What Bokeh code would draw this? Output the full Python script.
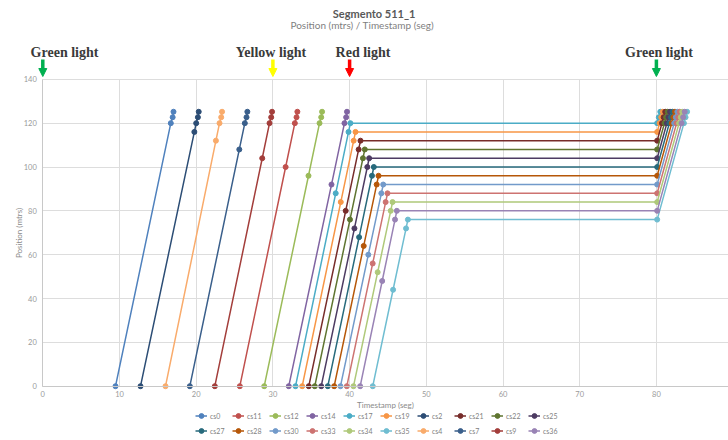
from bokeh.plotting import figure
from bokeh.models import Range1d, Label, Arrow, NormalHead, Legend, LegendItem, FixedTicker
from bokeh.embed import file_html
from bokeh.resources import INLINE

# ---------------- data ----------------
x_ticks = [0, 10, 20, 30, 40, 50, 60, 70, 80]
y_ticks = [0, 20, 40, 60, 80, 100, 120, 140]

light_names = ["Green light", "Yellow light", "Red light", "Green light"]
light_times = [0, 30, 40, 80]
light_label_x = [2.83, 29.75, 41.75, 80.34]
light_colors = ["#00B050", "#FFFF00", "#FF0000", "#00B050"]

cs0_t = [9.48, 16.69, 16.93, 17.04]
cs0_pos = [0, 120, 122.7, 125.2]
cs2_t = [12.74, 19.76, 20.00, 20.22, 20.33]
cs2_pos = [0, 116, 120, 122.7, 125.2]
cs4_t = [16.00, 22.57, 23.04, 23.26, 23.37]
cs4_pos = [0, 112, 120, 122.7, 125.2]
cs7_t = [19.17, 25.62, 26.34, 26.56, 26.67]
cs7_pos = [0, 108, 120, 122.7, 125.2]
cs9_t = [22.43, 28.61, 29.56, 29.78, 29.89]
cs9_pos = [0, 104, 120, 122.7, 125.2]
cs11_t = [25.69, 31.66, 32.86, 33.08, 33.19]
cs11_pos = [0, 100, 120, 122.7, 125.2]
cs12_t = [28.87, 34.64, 36.08, 36.30, 36.41]
cs12_pos = [0, 96, 120, 122.7, 125.2]
cs14_t = [32.07, 37.64, 39.33, 39.55, 39.66]
cs14_pos = [0, 92, 120, 122.7, 125.2]

cs17_t = [32.95, 38.19, 39.86, 40.10, 80.10, 80.31, 80.51]
cs17_pos = [0, 88, 116, 120, 120, 122.7, 125.2]
cs19_t = [33.82, 38.85, 40.53, 40.77, 80.10, 80.42, 80.63, 80.83]
cs19_pos = [0, 84, 112, 116, 116, 120, 122.7, 125.2]
cs21_t = [34.68, 39.49, 41.18, 41.42, 80.10, 80.73, 80.94, 81.15]
cs21_pos = [0, 80, 108, 112, 112, 120, 122.7, 125.2]
cs22_t = [35.46, 40.05, 41.74, 41.98, 80.10, 81.05, 81.26, 81.47]
cs22_pos = [0, 76, 104, 108, 108, 120, 122.7, 125.2]
cs25_t = [36.30, 40.63, 42.31, 42.55, 80.10, 81.37, 81.58, 81.78]
cs25_pos = [0, 72, 100, 104, 104, 120, 122.7, 125.2]
cs27_t = [37.16, 41.24, 42.92, 43.16, 80.10, 81.69, 81.90, 82.10]
cs27_pos = [0, 68, 96, 100, 100, 120, 122.7, 125.2]
cs28_t = [37.99, 41.84, 43.53, 43.77, 80.10, 82.00, 82.21, 82.42]
cs28_pos = [0, 64, 92, 96, 96, 120, 122.7, 125.2]
cs30_t = [38.81, 42.44, 44.14, 44.38, 80.10, 82.32, 82.53, 82.73]
cs30_pos = [0, 60, 88, 92, 92, 120, 122.7, 125.2]
cs33_t = [39.64, 43.01, 44.70, 44.94, 80.10, 82.64, 82.85, 83.05]
cs33_pos = [0, 56, 84, 88, 88, 120, 122.7, 125.2]
cs34_t = [40.51, 43.66, 45.36, 45.60, 80.10, 82.96, 83.17, 83.37]
cs34_pos = [0, 52, 80, 84, 84, 120, 122.7, 125.2]
cs36_t = [41.38, 44.25, 45.92, 46.16, 80.10, 83.28, 83.49, 83.69]
cs36_pos = [0, 48, 76, 80, 80, 120, 122.7, 125.2]
cs35_t = [43.02, 45.67, 47.36, 47.60, 80.10, 83.59, 83.80, 84.00]
cs35_pos = [0, 44, 72, 76, 76, 120, 122.7, 125.2]

series_names = ["cs0", "cs11", "cs12", "cs14", "cs17", "cs19", "cs2", "cs21", "cs22", "cs25",
                "cs27", "cs28", "cs30", "cs33", "cs34", "cs35", "cs4", "cs7", "cs9", "cs36"]
series_colors = ["#4F81BD", "#C0504D", "#9BBB59", "#8064A2", "#4BACC6", "#F79646", "#2C4D75",
                 "#772C2A", "#5F7530", "#4D3B62", "#276A7C", "#B65708", "#729ACA", "#CD7371",
                 "#AFC97A", "#6FBDD1", "#F9AB6B", "#3A5F8B", "#A33E3B", "#9983B5"]
series_data = {
    "cs0": (cs0_t, cs0_pos), "cs2": (cs2_t, cs2_pos), "cs4": (cs4_t, cs4_pos),
    "cs7": (cs7_t, cs7_pos), "cs9": (cs9_t, cs9_pos), "cs11": (cs11_t, cs11_pos),
    "cs12": (cs12_t, cs12_pos), "cs14": (cs14_t, cs14_pos), "cs17": (cs17_t, cs17_pos),
    "cs19": (cs19_t, cs19_pos), "cs21": (cs21_t, cs21_pos), "cs22": (cs22_t, cs22_pos),
    "cs25": (cs25_t, cs25_pos), "cs27": (cs27_t, cs27_pos), "cs28": (cs28_t, cs28_pos),
    "cs30": (cs30_t, cs30_pos), "cs33": (cs33_t, cs33_pos), "cs34": (cs34_t, cs34_pos),
    "cs35": (cs35_t, cs35_pos), "cs36": (cs36_t, cs36_pos),
}

# ---------------- layout (pixel geometry of the canvas) ----------------
W, H = 728, 440
X0_PX, X_PX_PER_S = 42.3, 7.67       # where t=0 sits, pixels per second
Y0_PX, Y_PX_PER_M = 385.7, 2.192     # where position=0 sits, pixels per metre
X_START = -X0_PX / X_PX_PER_S
X_END = (W - X0_PX) / X_PX_PER_S
Y_START = -(H - Y0_PX) / Y_PX_PER_M
Y_END = Y0_PX / Y_PX_PER_M


def ypx(py):
    """page pixel row -> data y (for header annotations)"""
    return (Y0_PX - py) / Y_PX_PER_M


p = figure(frame_width=W, frame_height=H, x_range=Range1d(X_START, X_END),
           y_range=Range1d(Y_START, Y_END), toolbar_location=None, output_backend="svg",
           min_border_left=0, min_border_right=0, min_border_top=0, min_border_bottom=0)
p.outline_line_color = None

# axes sit at t=0 / position=0 inside the frame
p.xaxis.fixed_location = 0
p.yaxis.fixed_location = 0
p.xaxis.bounds = (0, X_END)
p.yaxis.bounds = (0, 140)
p.xaxis.ticker = FixedTicker(ticks=x_ticks)
p.yaxis.ticker = FixedTicker(ticks=y_ticks)
p.xgrid.ticker = FixedTicker(ticks=x_ticks)
p.ygrid.ticker = FixedTicker(ticks=y_ticks)
p.xgrid.cross_bounds = (0, 140)
p.ygrid.cross_bounds = (0, X_END)
p.grid.grid_line_color = "#DDDDDD"
p.grid.grid_line_width = 1
for ax in (p.xaxis, p.yaxis):
    ax.axis_line_color = "#C8C8C8"
    ax.major_tick_line_color = None
    ax.minor_tick_line_color = None
    ax.major_tick_out = 0
    ax.major_tick_in = 0
    ax.major_label_text_font = "Lato"
    ax.major_label_text_font_size = "7.5px"
    ax.major_label_text_color = "#9A9A9A"
    ax.axis_label_text_font = "Lato"
    ax.axis_label_text_font_size = "8px"
    ax.axis_label_text_font_style = "normal"
    ax.axis_label_text_color = "#8A8A8A"
p.xaxis.axis_label = "Timestamp (seg)"
p.yaxis.axis_label = "Position (mtrs)"
p.xaxis.major_label_standoff = 5
p.yaxis.major_label_standoff = 6
p.xaxis.axis_label_standoff = -1
p.yaxis.axis_label_standoff = -4

# header: title, subtitle, traffic-light annotations
p.add_layout(Label(x=43.2, y=ypx(12.5), text="Segmento 511_1", text_align="center",
                   text_baseline="middle", text_font="Lato", text_font_style="bold",
                   text_font_size="11px", text_color="#595959"))
p.add_layout(Label(x=41.64, y=ypx(24), text="Position (mtrs) / Timestamp (seg)",
                   text_align="center", text_baseline="middle", text_font="Lato",
                   text_font_size="10px", text_color="#7F7F7F"))
for name, tx, t, col in zip(light_names, light_label_x, light_times, light_colors):
    p.add_layout(Label(x=tx, y=ypx(51.7), text=name, text_align="center",
                       text_baseline="alphabetic", text_font="Liberation Serif",
                       text_font_style="bold", text_font_size="14px", text_color="#3A3A3A"))
    p.add_layout(Arrow(x_start=t, y_start=ypx(59), x_end=t, y_end=ypx(76), line_color=col,
                       line_width=3.5, end=NormalHead(size=8, fill_color=col, line_color=col)))

items = []
for name, col in zip(series_names, series_colors):
    ts, ps = series_data[name]
    lr = p.line(ts, ps, line_color=col, line_width=1.5)
    sr = p.scatter(ts, ps, marker="circle", size=5, fill_color=col, line_color=col)
    items.append(LegendItem(label=name, renderers=[lr, sr]))

legend = Legend(items=items, orientation="horizontal", ncols=10, location=(195, 3),
                label_text_font="Lato", label_text_font_size="7px", label_text_color="#7F7F7F",
                glyph_width=12, glyph_height=13, label_height=13, label_standoff=3,
                spacing=2, padding=0, margin=0, border_line_color=None,
                background_fill_alpha=0)
p.add_layout(legend, "center")

open("out.html", "w").write(file_html(p, INLINE))
